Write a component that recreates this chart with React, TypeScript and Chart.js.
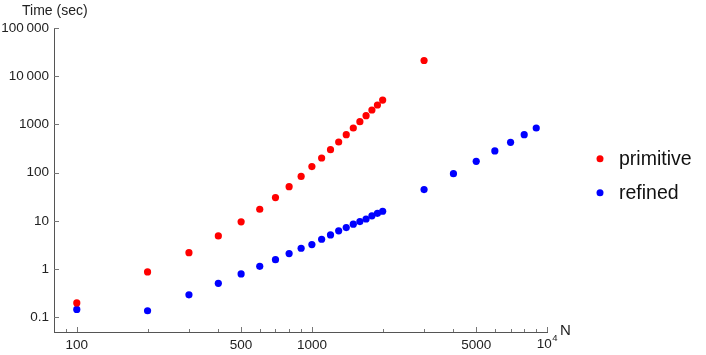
import React, { useEffect, useRef } from "react";
import { Chart, registerables } from "chart.js";

Chart.register(...registerables);

const primitiveN = [100, 200, 300, 400, 500, 600, 700, 800, 900, 1000, 1100, 1200, 1300, 1400, 1500, 1600, 1700, 1800, 1900, 2000, 3000];
const primitiveTime = [0.2, 0.88, 2.2, 4.9, 9.6, 17.5, 30.5, 51.5, 84, 134, 202, 301, 434, 615, 846, 1143, 1521, 1995, 2535, 3214, 21200];

const refinedN = [100, 200, 300, 400, 500, 600, 700, 800, 900, 1000, 1100, 1200, 1300, 1400, 1500, 1600, 1700, 1800, 1900, 2000, 3000, 4000, 5000, 6000, 7000, 8000, 9000];
const refinedTime = [0.147, 0.138, 0.295, 0.51, 0.8, 1.15, 1.58, 2.11, 2.72, 3.25, 4.18, 5.15, 6.24, 7.3, 8.6, 9.7, 11.0, 12.8, 14.4, 15.9, 44.7, 95.8, 172, 283, 427, 615, 846];

const seriesNames = ["primitive", "refined"];
const seriesColors = ["#ff0000", "#0000ff"];

const yTicks = [0.1, 1, 10, 100, 1000, 10000, 100000];
const yTickLabels = ["0.1", "1", "10", "100", "1000", "10\u2009000", "100\u2009000"];
const xTicks = [100, 500, 1000, 5000, 10000];
// last label is drawn as a power of ten (base + exponent) by the decor plugin
const xTickLabels = ["100", "500", "1000", "5000", ""];
const xPowerLabel = { value: 10000, base: "10", exponent: "4" };
const xMinorTicks = [90, 200, 300, 400, 600, 700, 800, 900, 2000, 3000, 4000, 6000, 7000, 8000, 9000];

const yTitle = "Time (sec)";
const xTitle = "N";

const FONT = "'Liberation Sans', Arial, Helvetica, sans-serif";

const decorPlugin = {
  id: "decor",
  afterDraw(chart: any) {
    const ctx = chart.ctx;
    const xs = chart.scales.x;
    const ys = chart.scales.y;
    const { left, bottom, top, right } = chart.chartArea;
    ctx.save();
    ctx.strokeStyle = "#777";
    ctx.lineWidth = 1;
    ctx.beginPath();
    yTicks.forEach((v) => {
      const y = Math.round(ys.getPixelForValue(v)) + 0.5;
      ctx.moveTo(left, y);
      ctx.lineTo(left + 5, y);
    });
    xTicks.forEach((v) => {
      const x = Math.round(xs.getPixelForValue(v)) + 0.5;
      ctx.moveTo(x, bottom);
      ctx.lineTo(x, bottom - 5);
    });
    xMinorTicks.forEach((v) => {
      const x = Math.round(xs.getPixelForValue(v)) + 0.5;
      ctx.moveTo(x, bottom);
      ctx.lineTo(x, bottom - 3);
    });
    ctx.stroke();

    // power-of-ten tick label
    ctx.fillStyle = "#222";
    ctx.textBaseline = "alphabetic";
    ctx.textAlign = "left";
    ctx.font = `13.5px ${FONT}`;
    const bw = ctx.measureText(xPowerLabel.base).width;
    ctx.font = `9.5px ${FONT}`;
    const ew = ctx.measureText(xPowerLabel.exponent).width;
    const px = xs.getPixelForValue(xPowerLabel.value) - (bw + ew) / 2;
    ctx.font = `13.5px ${FONT}`;
    ctx.fillText(xPowerLabel.base, px, bottom + 16);
    ctx.font = `9.5px ${FONT}`;
    ctx.fillText(xPowerLabel.exponent, px + bw + 0.5, bottom + 9);

    // axis titles
    ctx.fillStyle = "#222";
    ctx.font = `14px ${FONT}`;
    ctx.textBaseline = "middle";
    ctx.textAlign = "left";
    ctx.fillText(yTitle, 22, top - 17);
    ctx.font = `15px ${FONT}`;
    ctx.fillText(xTitle, right + 13, bottom - 1);

    // legend
    const lx = right + 53;
    const ly0 = ys.getPixelForValue(100) - 14;
    chart.data.datasets.forEach((ds: any, i: number) => {
      const y = ly0 + i * 34;
      ctx.fillStyle = ds.backgroundColor;
      ctx.beginPath();
      ctx.arc(lx, y, 3.5, 0, Math.PI * 2);
      ctx.fill();
      ctx.fillStyle = "#111";
      ctx.font = `19.5px ${FONT}`;
      ctx.textBaseline = "middle";
      ctx.fillText(ds.label, lx + 19, y + 0.5);
    });
    ctx.restore();
  },
};

export default function App() {
  const ref = useRef<HTMLCanvasElement | null>(null);
  useEffect(() => {
    if (!ref.current) return;
    const chart = new Chart(ref.current, {
      type: "scatter",
      data: {
        datasets: [
          {
            label: seriesNames[0],
            data: primitiveN.map((n, i) => ({ x: n, y: primitiveTime[i] })),
            backgroundColor: seriesColors[0],
            borderColor: seriesColors[0],
            pointRadius: 3.6,
            pointBorderWidth: 0,
          },
          {
            label: seriesNames[1],
            data: refinedN.map((n, i) => ({ x: n, y: refinedTime[i] })),
            backgroundColor: seriesColors[1],
            borderColor: seriesColors[1],
            pointRadius: 3.6,
            pointBorderWidth: 0,
          },
        ],
      },
      options: {
        animation: false,
        responsive: false,
        devicePixelRatio: 1,
        layout: { padding: { top: 28, right: 159, left: 0, bottom: 0 } },
        plugins: { legend: { display: false }, tooltip: { enabled: false } },
        scales: {
          x: {
            type: "logarithmic",
            min: 80,
            max: 10000,
            grid: { display: false, drawTicks: false },
            border: { display: true, color: "#555", width: 1 },
            afterBuildTicks: (scale: any) => {
              scale.ticks = xTicks.map((v) => ({ value: v }));
            },
            afterFit: (scale: any) => {
              scale.height = 23;
            },
            ticks: {
              autoSkip: false,
              maxRotation: 0,
              padding: 5,
              color: "#222",
              font: { family: FONT, size: 13.5 },
              callback: (_v: any, i: number) => xTickLabels[i],
            },
          },
          y: {
            type: "logarithmic",
            min: 0.05,
            max: 100000,
            grid: { display: false, drawTicks: false },
            border: { display: true, color: "#555", width: 1 },
            afterBuildTicks: (scale: any) => {
              scale.ticks = yTicks.map((v) => ({ value: v }));
            },
            afterFit: (scale: any) => {
              scale.width = 54;
            },
            ticks: {
              autoSkip: false,
              padding: 5,
              color: "#222",
              font: { family: FONT, size: 13.5 },
              callback: (_v: any, i: number) => yTickLabels[i],
            },
          },
        },
      },
      plugins: [decorPlugin],
    } as any);
    return () => chart.destroy();
  }, []);
  return (
    <div style={{ position: "fixed", left: 0, top: 0, width: 706, height: 355, background: "#fff" }}>
      <canvas ref={ref} width={706} height={355} style={{ width: 706, height: 355, display: "block" }} />
    </div>
  );
}
